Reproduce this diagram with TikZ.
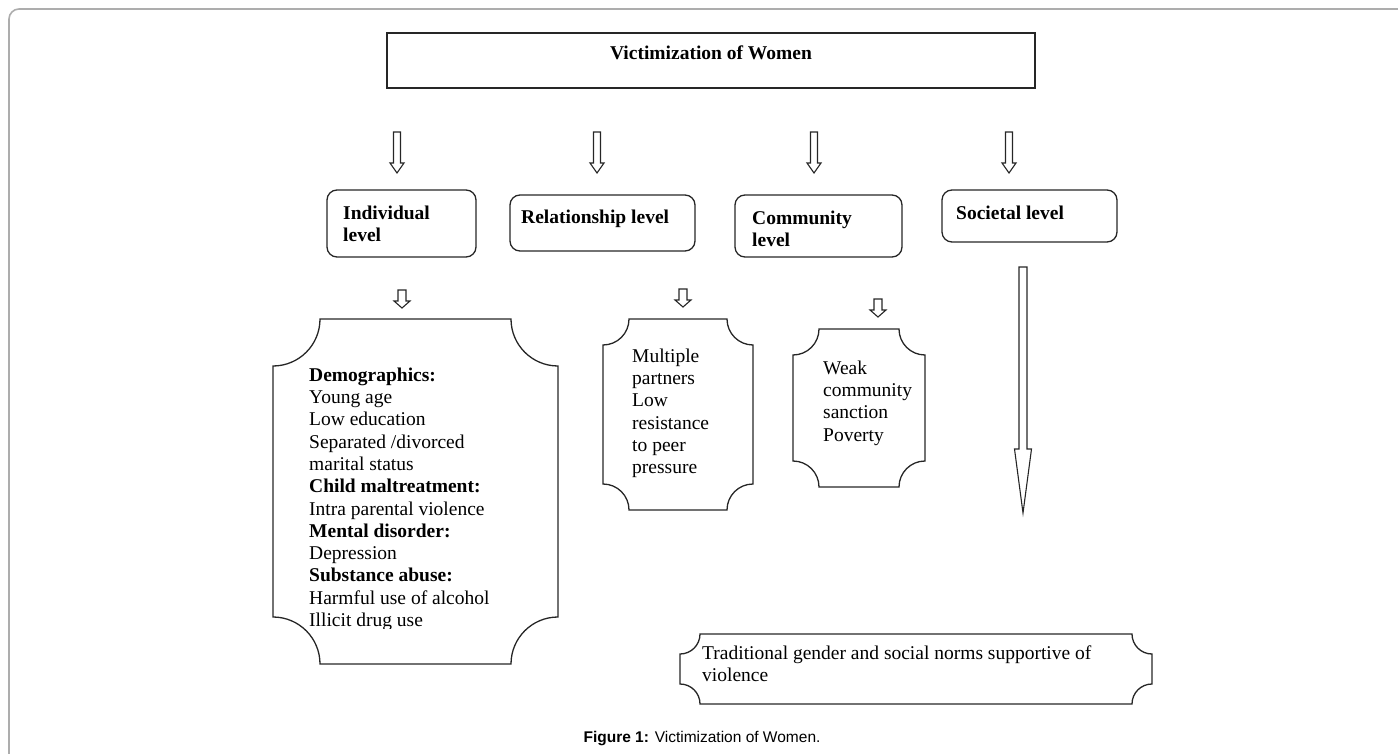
\documentclass[tikz,border=0pt]{standalone}
\usepackage{fontspec}
\setmainfont{Liberation Serif}
\newfontfamily\capfont{Liberation Sans}
\newcommand\harrowdown[6]{% x, ytop, ytip, shaft width, head width, head length
  \draw[shapeline,line width=1.1pt] ({#1-#4/2},#2) -- ({#1+#4/2},#2) -- ({#1+#4/2},{#3-#6}) -- ({#1+#5/2},{#3-#6})
    -- (#1,#3) -- ({#1-#5/2},{#3-#6}) -- ({#1-#4/2},{#3-#6}) -- cycle;}
\newcommand\plaqueoutline[5]{% x1 y1 x2 y2 r
  \draw[shapeline] ({#1+#5},#2) -- ({#3-#5},#2)
    .. controls ({#3-#5},{#2+0.5523*#5}) and ({#3-0.5523*#5},{#2+#5}) .. (#3,{#2+#5})
    -- (#3,{#4-#5})
    .. controls ({#3-0.5523*#5},{#4-#5}) and ({#3-#5},{#4-0.5523*#5}) .. ({#3-#5},#4)
    -- ({#1+#5},#4)
    .. controls ({#1+#5},{#4-0.5523*#5}) and ({#1+0.5523*#5},{#4-#5}) .. (#1,{#4-#5})
    -- (#1,{#2+#5})
    .. controls ({#1+0.5523*#5},{#2+#5}) and ({#1+#5},{#2+0.5523*#5}) .. ({#1+#5},#2) -- cycle;}
\newcommand\fl{\rule{0pt}{14pt}}
\begin{document}
\begin{tikzpicture}[x=1pt,y=-1pt,
  shapeline/.style={draw=black!85, line width=1.3pt, line join=miter},
  levelbox/.style={shapeline, rounded corners=10pt},
  bodytxt/.style={inner sep=0pt, anchor=north west, align=left, font=\fontsize{19.5}{22.3}\selectfont},
  boldtxt/.style={bodytxt, font=\fontsize{19.5}{22.3}\selectfont\bfseries},
]
\useasboundingbox (0,0) rectangle (1398,754);
% outer frame
\draw[draw=black!32, line width=1.6pt] (1398,9) -- (19,9) .. controls (13.5,9) and (9,13.5) .. (9,19) -- (9,754);
% title box
\draw[shapeline] (387,33) rectangle (1035,88);
\node[boldtxt, anchor=north] (title) at (711,45) {\fl Victimization of Women};
% top arrows
\harrowdown{397}{132}{173}{7}{14}{10}
\harrowdown{597}{132}{173}{7}{14}{10}
\harrowdown{814}{132}{173}{7}{14}{10}
\harrowdown{1009}{132}{173}{7}{14}{10}
% level boxes
\draw[levelbox] (327,190) rectangle (476,257);
\node[boldtxt] (indiv) at (343,205) {\fl Individual\\level};
\draw[levelbox] (510,195) rectangle (695,251);
\node[boldtxt] (rel) at (521,209) {\fl Relationship level};
\draw[levelbox] (735,195) rectangle (902,257);
\node[boldtxt] (comm) at (752,210) {\fl Community\\level};
\draw[levelbox] (942,190) rectangle (1117,242);
\node[boldtxt] (soc) at (956,205) {\fl Societal level};
% second arrows
\harrowdown{402}{290}{308}{8}{16}{7}
\harrowdown{683}{289}{307}{8}{16}{7}
\harrowdown{878}{299}{317}{8}{16}{7}
% long arrow
\harrowdown{1023}{267}{513}{8}{17}{64}
% individual plaque
\plaqueoutline{273}{319}{558}{664}{47}
\begin{scope}
\clip (280,330) rectangle (560,628);
\node[bodytxt] (indtxt) at (309,367) {\fl\textbf{Demographics:}\\Young age\\Low education\\Separated /divorced\\marital status\\\textbf{Child maltreatment:}\\Intra parental violence\\\textbf{Mental disorder:}\\Depression\\\textbf{Substance abuse:}\\Harmful use of alcohol\\Illicit drug use};
\end{scope}
% relationship plaque
\plaqueoutline{603}{319}{753}{510}{26}
\node[bodytxt] (reltxt) at (632,348) {\fl Multiple\\partners\\Low\\resistance\\to peer\\pressure};
% community plaque
\plaqueoutline{793}{329}{925}{487}{26}
\node[bodytxt] (commtxt) at (823,360) {\fl Weak\\community\\sanction\\Poverty};
% societal plaque
\plaqueoutline{680}{634}{1152}{704}{20}
\node[bodytxt] (soctxt) at (702,645) {\fl Traditional gender and social norms supportive of\\violence};
% caption
\node[inner sep=0pt, font=\capfont\fontsize{15.5}{18}\selectfont] (caption) at (702,739) {\textbf{Figure 1:} Victimization of Women.};
\end{tikzpicture}
\end{document}
